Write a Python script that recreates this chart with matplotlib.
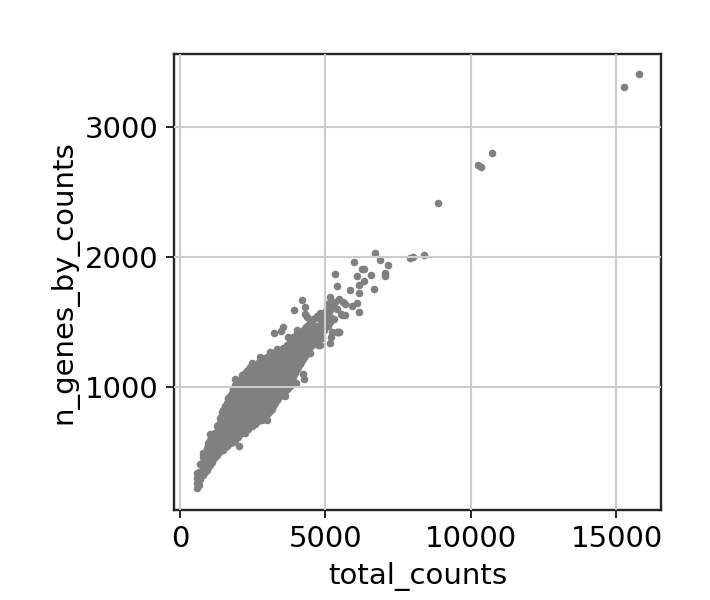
import matplotlib
matplotlib.use('Agg')
import matplotlib.pyplot as plt

# dense band, one list of n_genes for each total_counts column
column_counts = [600, 640, 700, 800, 915, 1030, 1145, 1260, 1375, 1490, 1605, 1720, 1835, 1950, 2060,
                 2175, 2290, 2400, 2520, 2635, 2750, 2860, 2975, 3090, 3205, 3320, 3435, 3550, 3665,
                 3780, 3895, 4005, 4120, 4235, 4350, 4465, 4580, 4695, 4810, 4925, 5040, 5150]
column_genes = [
    [225, 262, 300, 335], [250, 310, 345], [290, 345, 410], [320, 372, 425, 465], [365, 415, 470, 530],
    [400, 452, 505, 558, 590], [445, 490, 540, 595, 640], [480, 530, 585, 640, 700],
    [510, 562, 615, 670, 722, 760], [515, 590, 645, 700, 755, 820], [545, 622, 675, 730, 785, 838, 880],
    [570, 650, 705, 760, 815, 870, 930], [595, 675, 730, 785, 840, 895, 950, 985],
    [615, 700, 758, 812, 868, 925, 980, 1030], [640, 722, 780, 838, 895, 950, 1005, 1050],
    [665, 745, 805, 862, 920, 978, 1035, 1085], [680, 752, 810, 868, 925, 982, 1040, 1095, 1120],
    [700, 770, 830, 890, 950, 1008, 1065, 1122, 1155], [730, 785, 845, 905, 962, 1020, 1078, 1135, 1170],
    [745, 805, 865, 925, 985, 1042, 1100, 1150, 1170], [760, 818, 878, 938, 995, 1055, 1112, 1168, 1200],
    [770, 830, 890, 950, 1010, 1070, 1128, 1185, 1215], [790, 848, 908, 968, 1025, 1085, 1142, 1198, 1230],
    [815, 875, 935, 992, 1050, 1110, 1165, 1220, 1240], [850, 905, 965, 1025, 1082, 1140, 1198, 1265],
    [900, 955, 1012, 1068, 1125, 1182, 1235, 1275], [930, 985, 1042, 1100, 1155, 1212, 1262, 1285],
    [955, 1012, 1068, 1125, 1180, 1238, 1300], [985, 1040, 1098, 1152, 1210, 1268, 1325],
    [1030, 1085, 1140, 1195, 1250, 1305, 1350], [1080, 1135, 1188, 1242, 1298, 1350, 1385],
    [1135, 1188, 1240, 1295, 1348, 1415], [1175, 1228, 1280, 1332, 1385, 1425], [1215, 1268, 1320, 1375, 1430],
    [1265, 1315, 1368, 1420, 1470], [1310, 1360, 1410, 1460, 1500], [1340, 1392, 1445, 1525],
    [1365, 1418, 1470, 1545], [1420, 1470, 1520, 1560], [1465, 1515, 1570], [1500, 1550, 1600, 1640],
    [1540, 1590, 1645, 1695]]

# second set of columns, in between the first set
fill_counts = [860, 975, 1090, 1200, 1320, 1430, 1545, 1660, 1775, 1890, 2005, 2120, 2235, 2345, 2460,
               2575, 2690, 2805, 2920, 3035, 3150, 3265, 3380, 3490, 3605, 3720, 3835, 3950, 4060, 4175,
               4290, 4405, 4520]
fill_genes = [
    [345, 395, 445, 495], [385, 430, 480, 525, 570], [425, 470, 515, 560, 610], [465, 510, 555, 600, 650],
    [490, 530, 575, 620, 665, 710], [520, 565, 610, 655, 700, 745, 785], [540, 585, 630, 672, 715, 760, 805, 850],
    [560, 600, 645, 690, 735, 780, 825, 870, 905], [575, 618, 662, 708, 752, 798, 842, 888, 930, 955],
    [590, 632, 678, 722, 768, 812, 858, 902, 948, 990, 1015], [615, 660, 705, 750, 795, 840, 885, 930, 975, 1020],
    [650, 695, 740, 785, 830, 875, 920, 965, 1010, 1060], [670, 712, 758, 802, 848, 892, 938, 982, 1028, 1072, 1105],
    [680, 725, 770, 815, 860, 905, 950, 995, 1040, 1085, 1130], [700, 745, 790, 835, 880, 925, 970, 1015, 1060, 1105, 1150],
    [720, 765, 810, 855, 900, 945, 990, 1035, 1080, 1125, 1160], [735, 780, 825, 870, 915, 960, 1005, 1050, 1095, 1140, 1185],
    [750, 795, 840, 885, 930, 975, 1020, 1065, 1110, 1155, 1200], [775, 820, 865, 910, 955, 1000, 1045, 1090, 1135, 1180, 1220],
    [800, 845, 890, 935, 980, 1025, 1070, 1115, 1160, 1205], [830, 875, 920, 965, 1010, 1055, 1100, 1145, 1190, 1235],
    [875, 920, 965, 1010, 1055, 1100, 1145, 1190, 1235], [915, 960, 1005, 1050, 1095, 1140, 1185, 1230, 1270],
    [940, 985, 1030, 1075, 1120, 1165, 1210, 1255], [970, 1015, 1060, 1105, 1150, 1195, 1240, 1285],
    [1010, 1055, 1100, 1145, 1190, 1235, 1280, 1325], [1055, 1100, 1145, 1190, 1235, 1280, 1325, 1365],
    [1105, 1150, 1195, 1240, 1285, 1330, 1375], [1155, 1200, 1245, 1290, 1335, 1380],
    [1195, 1240, 1285, 1330, 1375, 1420], [1240, 1285, 1330, 1375, 1420, 1450], [1290, 1335, 1380, 1425, 1470],
    [1325, 1370, 1415, 1460, 1505]]

# scattered cells away from the band
other_counts = [15780, 15260, 10730, 10250, 10330, 8855, 8395, 7995, 7900, 6700, 6885, 7150, 5970, 6265,
                6325, 5325, 6070, 6565, 7045, 7045, 6325, 6160, 5405, 5840, 6680, 6160, 6070, 5900, 6160,
                5470, 5400, 4202, 3915, 4282, 4293, 3526, 3469, 3217, 3698, 2748, 3091, 2484, 2221, 1889,
                1030, 778, 2026, 3606, 4236, 4259, 3893, 5587, 5660, 5480, 5520, 5576, 5660, 5461, 5221,
                5152, 5198, 4751, 4946, 5260, 5330, 5100, 2560, 2230, 2400, 3980, 3780, 5100, 5300, 5400,
                4640, 4880,
                1431, 1660, 2118, 2347, 2518, 3320, 4007, 4350, 4808, 5037, 2977, 2576, 3091, 2232, 1832,
                3721, 4465, 4808, 5152, 5381]
other_genes = [3405, 3305, 2802, 2705, 2690, 2418, 2018, 1998, 1995, 2028, 1977, 1937, 1959, 1908,
               1905, 1872, 1854, 1862, 1875, 1854, 1818, 1787, 1779, 1744, 1754, 1721, 1646, 1625, 1575,
               1426, 1420, 1669, 1592, 1613, 1559, 1459, 1431, 1413, 1382, 1234, 1267, 1182, 1100, 1062,
               641, 490, 544, 933, 1100, 1064, 1036, 1657, 1640, 1680, 1560, 1554, 1550, 1426, 1426,
               1341, 1382, 1323, 1439, 1630, 1650, 1600, 1160, 1070, 1110, 1030, 1010, 1470, 1520, 1600,
               1410, 1380,
               810, 913, 1092, 1105, 1157, 1290, 1438, 1541, 1567, 1605, 746, 715, 823, 644, 580,
               990, 1259, 1323, 1503, 1426]

xticks = [0, 5000, 10000, 15000]
yticks = [1000, 2000, 3000]

total_counts = other_counts[:]
n_genes_by_counts = other_genes[:]
for c, genes in zip(column_counts + fill_counts, column_genes + fill_genes):
    for g in genes:
        total_counts.append(c)
        n_genes_by_counts.append(g)

fig = plt.figure(figsize=(7.1, 6), dpi=100)
ax = fig.add_axes([174 / 710, 1 - 510 / 600, 487 / 710, 456 / 600])
ax.scatter(total_counts, n_genes_by_counts, s=30, c='#808080', linewidths=0)
ax.set_xlim(-206, 16530)
ax.set_ylim(54, 3561)
ax.set_xticks(xticks)
ax.set_yticks(yticks)
ax.set_axisbelow(False)
ax.grid(True, color='#cccccc', linewidth=1.5)
ax.tick_params(labelsize=21, width=1.4, length=6, color='#262626', pad=5)
for spine in ax.spines.values():
    spine.set_linewidth(1.7)
    spine.set_color('#262626')
ax.set_xlabel('total_counts', fontsize=21, labelpad=6)
ax.set_ylabel('n_genes_by_counts', fontsize=21, labelpad=5)
fig.savefig('out.png', dpi=100)
